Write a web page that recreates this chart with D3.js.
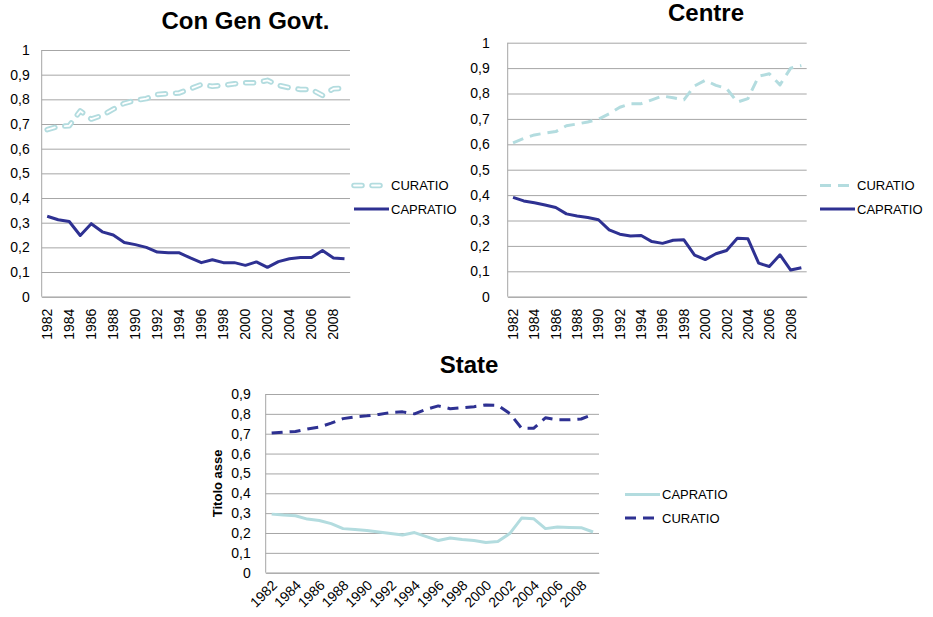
<!DOCTYPE html>
<html>
<head>
<meta charset="utf-8">
<script src="https://cdn.jsdelivr.net/npm/d3@7"></script>
<style>
  body { margin: 0; background: #fff; }
  svg text { font-family: "Liberation Sans", Arial, sans-serif; fill: #000; }
</style>
</head>
<body>
<svg id="chart" width="933" height="617"></svg>
<script>
const years = d3.range(1982, 2010);
const yearTicks = d3.range(1982, 2010, 2);

const conGenCuratio = [0.677, 0.69, 0.693, 0.753, 0.72, 0.735, 0.76, 0.784, 0.796, 0.803, 0.82, 0.823, 0.826, 0.843,
    0.86, 0.853, 0.857, 0.863, 0.867, 0.867, 0.877, 0.857, 0.847, 0.84, 0.84, 0.816, 0.843, 0.845];
const conGenCapratio = [0.326, 0.312, 0.305, 0.248, 0.296, 0.263, 0.25, 0.22, 0.211, 0.2, 0.181, 0.178, 0.178, 0.157,
    0.138, 0.15, 0.138, 0.138, 0.127, 0.141, 0.119, 0.142, 0.154, 0.159, 0.159, 0.187, 0.157, 0.154];

const centreCuratio = [0.606, 0.623, 0.637, 0.644, 0.65, 0.673, 0.68, 0.688, 0.699, 0.72, 0.746, 0.76, 0.76, 0.775,
    0.79, 0.783, 0.775, 0.83, 0.852, 0.832, 0.82, 0.766, 0.78, 0.868, 0.878, 0.834, 0.9, 0.91];
const centreCapratio = [0.391, 0.377, 0.37, 0.361, 0.351, 0.326, 0.318, 0.312, 0.303, 0.263, 0.246, 0.239, 0.241, 0.217,
    0.21, 0.222, 0.224, 0.164, 0.146, 0.169, 0.182, 0.23, 0.228, 0.132, 0.119, 0.165, 0.105, 0.114];

const stateCapratio = [0.295, 0.29, 0.287, 0.27, 0.263, 0.247, 0.222, 0.217, 0.213, 0.205, 0.197, 0.19, 0.202, 0.182,
    0.162, 0.175, 0.167, 0.162, 0.152, 0.157, 0.197, 0.275, 0.272, 0.222, 0.23, 0.228, 0.227, 0.205];
const stateCuratio = [0.703, 0.708, 0.711, 0.724, 0.733, 0.753, 0.776, 0.785, 0.79, 0.797, 0.807, 0.81, 0.8, 0.823,
    0.84, 0.826, 0.831, 0.836, 0.845, 0.843, 0.802, 0.727, 0.727, 0.78, 0.77, 0.77, 0.774, 0.797];

const teal = '#b3dcdf';
const navy = '#2e3192';
const gridColor = '#a6a6a6';

const svg = d3.select('#chart');
const locale = d3.formatLocale({decimal: ',', thousands: '.', grouping: [3], currency: ['', '']});
const fmt = locale.format('.1~f');

// draw one line in a given style: solid, dash or compound (double) dash
function drawStyled(g, pathD, color, style) {
    if (style === 'double') {
        g.append('path').attr('d', pathD).attr('fill', 'none')
            .attr('stroke', color).attr('stroke-width', 5.5)
            .attr('stroke-dasharray', '8,10').attr('stroke-linecap', 'round')
            .attr('stroke-linejoin', 'round');
        g.append('path').attr('d', pathD).attr('fill', 'none')
            .attr('stroke', '#fff').attr('stroke-width', 1.8)
            .attr('stroke-dasharray', '8,10').attr('stroke-linecap', 'round')
            .attr('stroke-linejoin', 'round');
    } else {
        g.append('path').attr('d', pathD).attr('fill', 'none')
            .attr('stroke', color).attr('stroke-width', 3)
            .attr('stroke-dasharray', style === 'dash' ? '11,7' : null)
            .attr('stroke-linejoin', 'round');
    }
}

function drawChart(cfg) {
    const x = d3.scaleBand().domain(years).range([cfg.left, cfg.right]);
    const y = d3.scaleLinear().domain([0, cfg.yMax]).range([cfg.bottom, cfg.top]);
    const g = svg.append('g');

    // gridlines and y labels
    const yAx = g.append('g').attr('transform', `translate(${cfg.left},0)`)
        .call(d3.axisLeft(y).tickValues(d3.range(0, cfg.yMax + 0.001, 0.1))
            .tickFormat(fmt).tickSize(-(cfg.right - cfg.left)).tickPadding(cfg.yPad));
    yAx.select('.domain').remove();
    yAx.selectAll('line').attr('stroke', gridColor);
    yAx.selectAll('text').attr('font-size', 14).attr('fill', '#000');

    g.append('line').attr('x1', cfg.left).attr('x2', cfg.left)
        .attr('y1', cfg.top).attr('y2', cfg.bottom).attr('stroke', gridColor);

    // x axis
    const xAx = g.append('g').attr('transform', `translate(0,${cfg.bottom})`)
        .call(d3.axisBottom(x).tickValues(yearTicks).tickSize(0));
    xAx.select('.domain').attr('stroke', gridColor);
    xAx.selectAll('text').attr('font-size', 14).attr('fill', '#000')
        .attr('y', 0).attr('dy', '0.35em').attr('text-anchor', 'end')
        .attr('transform', cfg.rotate === -90 ? 'translate(0,12) rotate(-90)' : 'translate(3,10) rotate(-45)');

    // series
    const line = d3.line().x((d, i) => x(years[i]) + x.bandwidth() / 2).y(d => y(d));
    cfg.series.forEach(s => drawStyled(g, line(s.values), s.color, s.style));

    // title
    g.append('text').attr('x', cfg.titleX).attr('y', cfg.titleY).attr('text-anchor', 'middle')
        .attr('font-size', 24).attr('font-weight', 'bold').text(cfg.title);

    // legend
    cfg.series.forEach(s => {
        const ly = cfg.legendY + s.legendRow * 23.5;
        drawStyled(g, `M${cfg.legendX},${ly}H${cfg.legendX + 35}`, s.color, s.style);
        g.append('text').attr('x', cfg.legendX + 37).attr('y', ly).attr('dy', '0.35em')
            .attr('font-size', 13).text(s.name);
    });

    if (cfg.yTitle) {
        g.append('text').attr('transform', `translate(${cfg.yTitleX},${(cfg.top + cfg.bottom) / 2}) rotate(-90)`)
            .attr('text-anchor', 'middle').attr('dy', '0.35em')
            .attr('font-size', 13).attr('font-weight', 'bold').text(cfg.yTitle);
    }
}

drawChart({
    left: 41.7, right: 350, top: 50, bottom: 296.7, yMax: 1, yPad: 12, rotate: -90,
    title: 'Con Gen Govt.', titleX: 245.5, titleY: 29,
    legendX: 354, legendY: 185.5,
    series: [
        {name: 'CURATIO', values: conGenCuratio, color: teal, style: 'double', legendRow: 0},
        {name: 'CAPRATIO', values: conGenCapratio, color: navy, style: 'solid', legendRow: 1}
    ]
});

drawChart({
    left: 507.7, right: 806.7, top: 42.7, bottom: 296.7, yMax: 1, yPad: 18, rotate: -90,
    title: 'Centre', titleX: 706, titleY: 21,
    legendX: 820, legendY: 185.5,
    series: [
        {name: 'CURATIO', values: centreCuratio, color: teal, style: 'dash', legendRow: 0},
        {name: 'CAPRATIO', values: centreCapratio, color: navy, style: 'solid', legendRow: 1}
    ]
});

drawChart({
    left: 265.7, right: 599, top: 394, bottom: 572.7, yMax: 0.9, yPad: 15, rotate: -45,
    title: 'State', titleX: 469, titleY: 373,
    legendX: 625, legendY: 494.5, yTitle: 'Titolo asse', yTitleX: 217,
    series: [
        {name: 'CAPRATIO', values: stateCapratio, color: teal, style: 'solid', legendRow: 0},
        {name: 'CURATIO', values: stateCuratio, color: navy, style: 'dash', legendRow: 1}
    ]
});
</script>
</body>
</html>
